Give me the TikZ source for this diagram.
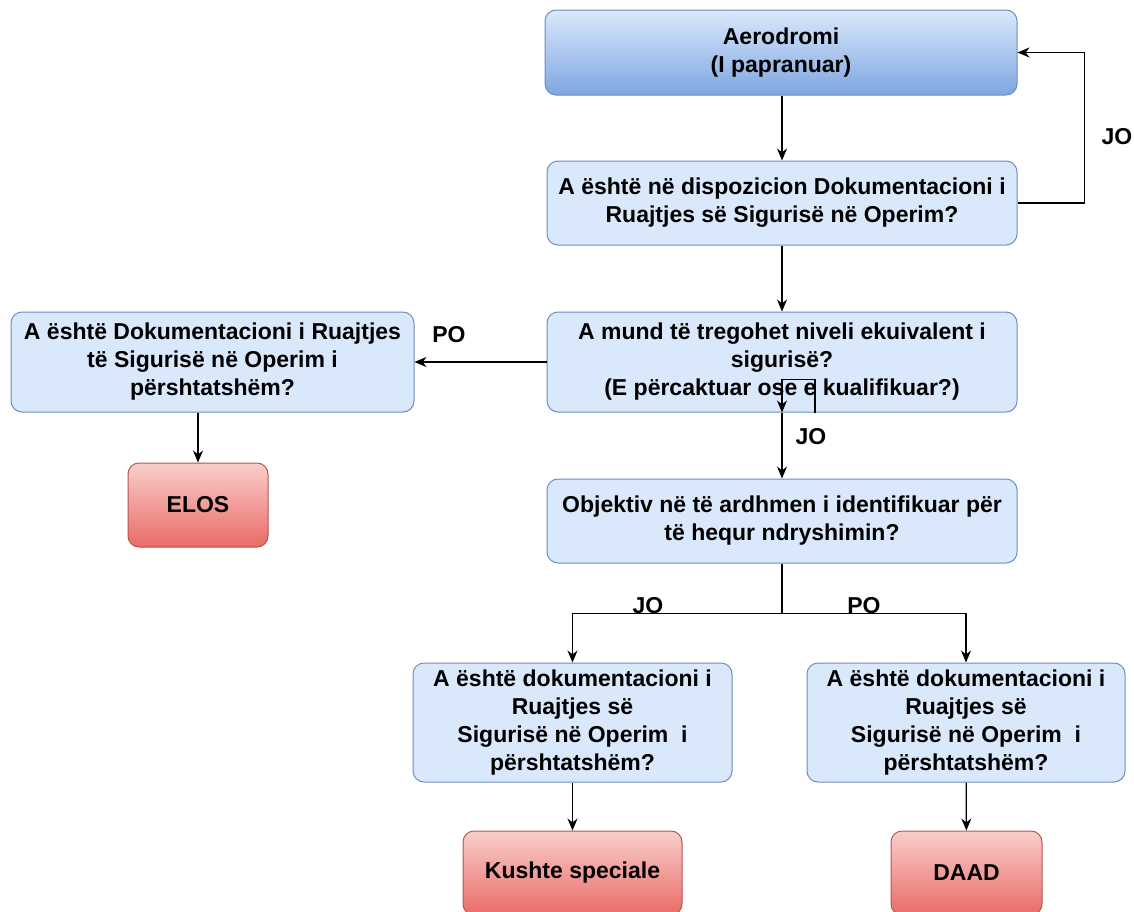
\documentclass[tikz,border=0pt]{standalone}
\usepackage{fontspec}
\setmainfont{Liberation Sans}
\usetikzlibrary{arrows.meta}
\definecolor{boxblue}{HTML}{DAE8FC}
\definecolor{topblue}{HTML}{7EA6E0}
\definecolor{boxedge}{HTML}{6C8EBF}
\definecolor{boxred}{HTML}{F8CECC}
\definecolor{endred}{HTML}{EA6B66}
\definecolor{rededge}{HTML}{B85450}

\begin{document}
\begin{tikzpicture}[x=1pt, y=-1pt,
  font=\fontsize{23}{28}\selectfont\bfseries,
  qbox/.style={draw=boxedge, fill=boxblue, rounded corners=11pt, align=center, inner sep=0pt, line width=1pt},
  endbox/.style={draw=rededge, top color=boxred, bottom color=endred, rounded corners=11pt, align=center, inner sep=0pt, line width=1pt, minimum height=84},
  arr/.style={-{Stealth[length=12pt,width=10pt]}, line width=1.3pt},
  lbl/.style={inner sep=0pt}]
\clip (0,0) rectangle (1134,911);
\node[qbox, top color=boxblue, bottom color=topblue, minimum width=472, minimum height=85] (aero) at (781,52.5) {Aerodromi\\(I papranuar)};
\node[qbox, minimum width=470, minimum height=84] (disp) at (782,203) {A është në dispozicion Dokumentacioni i\\Ruajtjes së Sigurisë në Operim?};
\node[qbox, minimum width=470, minimum height=100] (niveli) at (782,362) {A mund të tregohet niveli ekuivalent i\\sigurisë?\\(E përcaktuar ose e kualifikuar?)};
\node[qbox, minimum width=470, minimum height=84] (objektiv) at (782,521) {Objektiv në të ardhmen i identifikuar për\\të hequr ndryshimin?};
\node[qbox, minimum width=403, minimum height=100] (dokleft) at (212.5,362) {A është Dokumentacioni i Ruajtjes\\të Sigurisë në Operim i\\përshtatshëm?};
\node[endbox, minimum width=140] (elos) at (198,505) {ELOS};
\node[qbox, minimum width=319, minimum height=119] (dokjo) at (572.5,722.5) {A është dokumentacioni i\\Ruajtjes së\\Sigurisë në Operim~~i\\përshtatshëm?};
\node[qbox, minimum width=318, minimum height=119] (dokpo) at (966,722.5) {A është dokumentacioni i\\Ruajtjes së\\Sigurisë në Operim~~i\\përshtatshëm?};
\node[endbox, minimum width=219] (kushte) at (572.5,873) {Kushte speciale};
\node[endbox, minimum width=151] (daad) at (966.5,873) {DAAD};

\draw[arr] (aero.south -| disp.north) -- (disp.north);
\draw[arr] (disp.east) -- ++(67,0) |- (aero.east);
\node[lbl] (jotop) at (1117,137) {JO};
\draw[arr] (disp) -- (niveli);
\draw[arr] (niveli.west) -- (niveli.west -| dokleft.east);
\node[lbl] (pol) at (449,335) {PO};
\draw[arr] (dokleft.south -| elos.north) -- (elos.north);
\draw[arr] ([xshift=33pt]niveli.south) -- ++(0,-33) -- ++(-33,0) -- (niveli.south);
\draw[arr] (niveli) -- (objektiv);
\node[lbl] (jomid) at (811,437) {JO};
\draw[arr] (objektiv.south) -- ++(0,50) -| (dokjo.north);
\draw[arr] (objektiv.south) -- ++(0,50) -| (dokpo.north);
\node[lbl] (jobot) at (648,606) {JO};
\node[lbl] (pobot) at (864,606) {PO};
\draw[arr] (dokjo) -- (kushte);
\draw[arr] (dokpo) -- (daad);
\end{tikzpicture}
\end{document}
